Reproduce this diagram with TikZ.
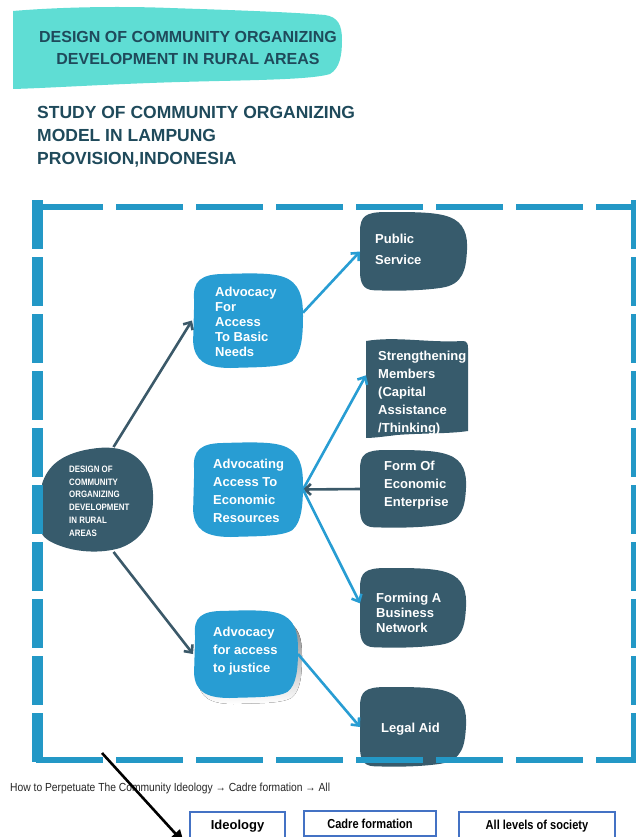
\documentclass[tikz,border=0pt]{standalone}
\usepackage{fontspec}
\setmainfont{Liberation Sans}
\newfontfamily\narrowsans[FakeStretch=0.85]{Liberation Sans}
\newfontfamily\captionsans[FakeStretch=0.88]{Liberation Sans}
\usetikzlibrary{arrows.meta}

\definecolor{titlebg}{HTML}{5FDDD4}
\definecolor{titleink}{HTML}{1F4A5B}
\definecolor{advblue}{HTML}{289DD3}
\definecolor{slate}{HTML}{375B6C}
\definecolor{framecol}{HTML}{2398C6}
\definecolor{linkslate}{HTML}{3B5969}
\definecolor{outline}{HTML}{4472C4}
\definecolor{shade}{HTML}{F2F2EC}

% soft hand-drawn rounded box, filled, fitted to a node's frame
\newcommand{\softfill}[5]{%
  \begin{scope}[shift={(#1.north west)},shift={#5},xscale=#2,yscale=#3]
    \fill[#4] (0.02,0.30) .. controls (0.0,0.08) and (0.08,0.01) .. (0.30,0.01)
      .. controls (0.55,0.0) and (0.72,0.0) .. (0.82,0.04)
      .. controls (0.97,0.10) and (1.0,0.25) .. (1.0,0.45)
      .. controls (1.0,0.65) and (0.99,0.85) .. (0.90,0.93)
      .. controls (0.80,1.0) and (0.55,0.99) .. (0.35,1.0)
      .. controls (0.12,1.0) and (0.02,0.92) .. (0.01,0.72) -- cycle;
  \end{scope}}
\newcommand{\slatefill}[3]{%
  \begin{scope}[shift={(#1.north west)},xscale=#2,yscale=#3]
    \fill[slate] (0.0,0.25) .. controls (0.0,0.05) and (0.05,0.0) .. (0.25,0.0)
      .. controls (0.5,0.0) and (0.7,0.0) .. (0.82,0.06)
      .. controls (0.97,0.13) and (1.0,0.3) .. (0.99,0.5)
      .. controls (0.98,0.72) and (0.96,0.92) .. (0.75,0.96)
      .. controls (0.55,1.0) and (0.3,1.0) .. (0.12,0.99)
      .. controls (0.03,0.98) and (0.0,0.9) .. (0.0,0.75) -- cycle;
  \end{scope}}
% wavy flag-like box
\newcommand{\flagfill}[3]{%
  \begin{scope}[shift={(#1.north west)},xscale=#2,yscale=#3]
    \fill[slate] (0,0.03) .. controls (0.3,-0.02) and (0.6,0.05) .. (0.95,0.03)
      .. controls (0.99,0.03) and (1,0.06) .. (1,0.1) -- (1,0.93)
      .. controls (0.8,0.96) and (0.55,0.95) .. (0.3,0.97)
      .. controls (0.15,0.99) and (0.05,1) .. (0,1) -- cycle;
  \end{scope}}

\tikzset{
  area/.style={shape=rectangle, inner sep=0pt, outer sep=0pt},
  boxtext/.style={anchor=north west, inner sep=0pt, text=white, align=left,
    font=\bfseries\fontsize{13}{#1}\selectfont},
  link/.style={line width=2.6pt, -{Straight Barb[length=6pt,width=11pt]}},
  bluelink/.style={link, draw=advblue},
  slatelink/.style={link, draw=linkslate},
  framedash/.style={draw=framecol, dash pattern=on 67pt off 13pt},
  framevert/.style={draw=framecol, dash pattern=on 49pt off 8pt},
  bottombox/.style={draw=outline, line width=1.8pt, fill=white, inner sep=0pt,
    anchor=north, text=black},
}

\begin{document}
\begin{tikzpicture}[x=1pt,y=-1pt]
\useasboundingbox (0,0) rectangle (636,837);
\clip (0,0) rectangle (636,837);

% heading banner
\fill[titlebg] (13,11) .. controls (60,7) and (120,6) .. (170,8)
  .. controls (230,10) and (290,12) .. (325,15)
  .. controls (338,17) and (342,25) .. (342,40)
  .. controls (342,55) and (340,68) .. (330,74)
  .. controls (310,80) and (250,80) .. (180,82)
  .. controls (110,84) and (50,88) .. (13,89) -- cycle;
\node[font=\bfseries\fontsize{16}{22}\selectfont, text=titleink, align=center, inner sep=0pt]
  (title) at (188,48) {DESIGN OF COMMUNITY ORGANIZING\\DEVELOPMENT IN RURAL AREAS};
\node[anchor=north west, inner sep=0pt, font=\bfseries\fontsize{17.5}{23.3}\selectfont,
  text=titleink, align=left]
  (study) at (37,105.7) {STUDY OF COMMUNITY ORGANIZING\\MODEL IN LAMPUNG\\PROVISION,INDONESIA};

% box frames
\node[area, minimum width=111pt, minimum height=105pt] (cen) at (97.5,499.5) {};
\node[area, minimum width=111pt, minimum height=95pt] (a1) at (247.5,320.5) {};
\node[area, minimum width=111pt, minimum height=95pt] (a2) at (247.5,489.5) {};
\node[area, minimum width=105pt, minimum height=88pt] (a3) at (245.5,654) {};
\node[area, minimum width=108pt, minimum height=79pt] (p1) at (414,251.5) {};
\node[area, minimum width=102pt, minimum height=100pt] (p2) at (417,388) {};
\node[area, minimum width=107pt, minimum height=78pt] (p3) at (413.5,489) {};
\node[area, minimum width=107pt, minimum height=80pt] (p4) at (413.5,608) {};
\node[area, minimum width=107pt, minimum height=80pt] (p5) at (413.5,727) {};

% central blob
\fill[slate] (42,484) .. controls (48,465) and (62,455) .. (85,450)
  .. controls (100,447) and (115,446) .. (128,452)
  .. controls (145,460) and (154,478) .. (153,500)
  .. controls (153,522) and (142,540) .. (120,548)
  .. controls (100,554) and (75,552) .. (58,545)
  .. controls (50,542) and (44,538) .. (42,534) -- cycle;

% advocacy boxes
\softfill{a1}{111}{95}{advblue}{(0,0)}
\softfill{a2}{111}{95}{advblue}{(0,0)}
\softfill{a3}{105}{88}{shade}{(4,6)}
\softfill{a3}{105}{88}{advblue}{(0,0)}

% outcome boxes
\slatefill{p1}{108}{79}
\flagfill{p2}{102}{100}
\slatefill{p3}{107}{78}
\slatefill{p4}{107}{80}
\slatefill{p5}{107}{80}

% labels
\node[anchor=north west, inner sep=0pt, text=white, align=left,
  font=\narrowsans\bfseries\fontsize{9.3}{12.8}\selectfont]
  (cent) at (69,465.7) {DESIGN OF\\COMMUNITY\\ORGANIZING\\DEVELOPMENT\\IN RURAL\\AREAS};
\node[boxtext=15] (a1t) at (215,287.3) {Advocacy\\For\\Access\\To Basic\\Needs};
\node[boxtext=17.7] (a2t) at (213,459.3) {Advocating\\Access To\\Economic\\Resources};
\node[boxtext=18] (a3t) at (213,627.3) {Advocacy\\for access\\to justice};
\node[boxtext=21] (p1t) at (375,234.3) {Public\\Service};
\node[boxtext=17.8] (p2t) at (378,351.3) {Strengthening\\Members\\(Capital\\Assistance\\/Thinking)};
\node[boxtext=18] (p3t) at (384,461.3) {Form Of\\Economic\\Enterprise};
\node[boxtext=15] (p4t) at (376,593.3) {Forming A\\Business\\Network};
\node[boxtext=15] (p5t) at (381,723.3) {Legal Aid};

% connectors
\draw[slatelink] (cen.73) -- (a1.west);
\draw[slatelink] (cen.-73) -- (a3.west);
\draw[bluelink] (a1.8) -- (p1.west);
\draw[bluelink] (a2.east) -- (p2.166);
\draw[slatelink] (p3.west) -- (a2.east);
\draw[bluelink] (a2.east) -- (p4.175);
\draw[bluelink] (a3.east) -- (p5.west);

% dashed frame
\draw[framedash, line width=6pt] (36,207) -- (640,207);
\draw[framedash, line width=6pt] (36,759.5) -- (640,759.5);
\draw[framevert, line width=11pt] (37.5,200) -- (37.5,762);
\draw[framevert, line width=5pt] (633.5,200) -- (633.5,762);

% perpetuation line
\node[anchor=base west, inner sep=0pt, text=black!85, font=\captionsans\fontsize{11.7}{13}\selectfont]
  (howto) at (10,791) {How to Perpetuate The Community Ideology → Cadre formation → All};
\node[bottombox, minimum width=95pt, minimum height=28pt,
  font=\bfseries\fontsize{13}{15}\selectfont] (ideo) at (237.5,811) {Ideology};
\node[bottombox, minimum width=132pt, minimum height=25pt,
  font=\narrowsans\bfseries\fontsize{13}{15}\selectfont] (cadre) at (370,810) {Cadre formation};
\node[bottombox, minimum width=156pt, minimum height=28pt,
  font=\narrowsans\bfseries\fontsize{13}{15}\selectfont] (levels) at (537,811) {All levels of society};

\coordinate (pstart) at (102,753);
\coordinate (pend) at (184,843);
\draw[line width=2.6pt, -{Triangle[length=13pt,width=12pt]}] (pstart) -- (pend);
\end{tikzpicture}
\end{document}
